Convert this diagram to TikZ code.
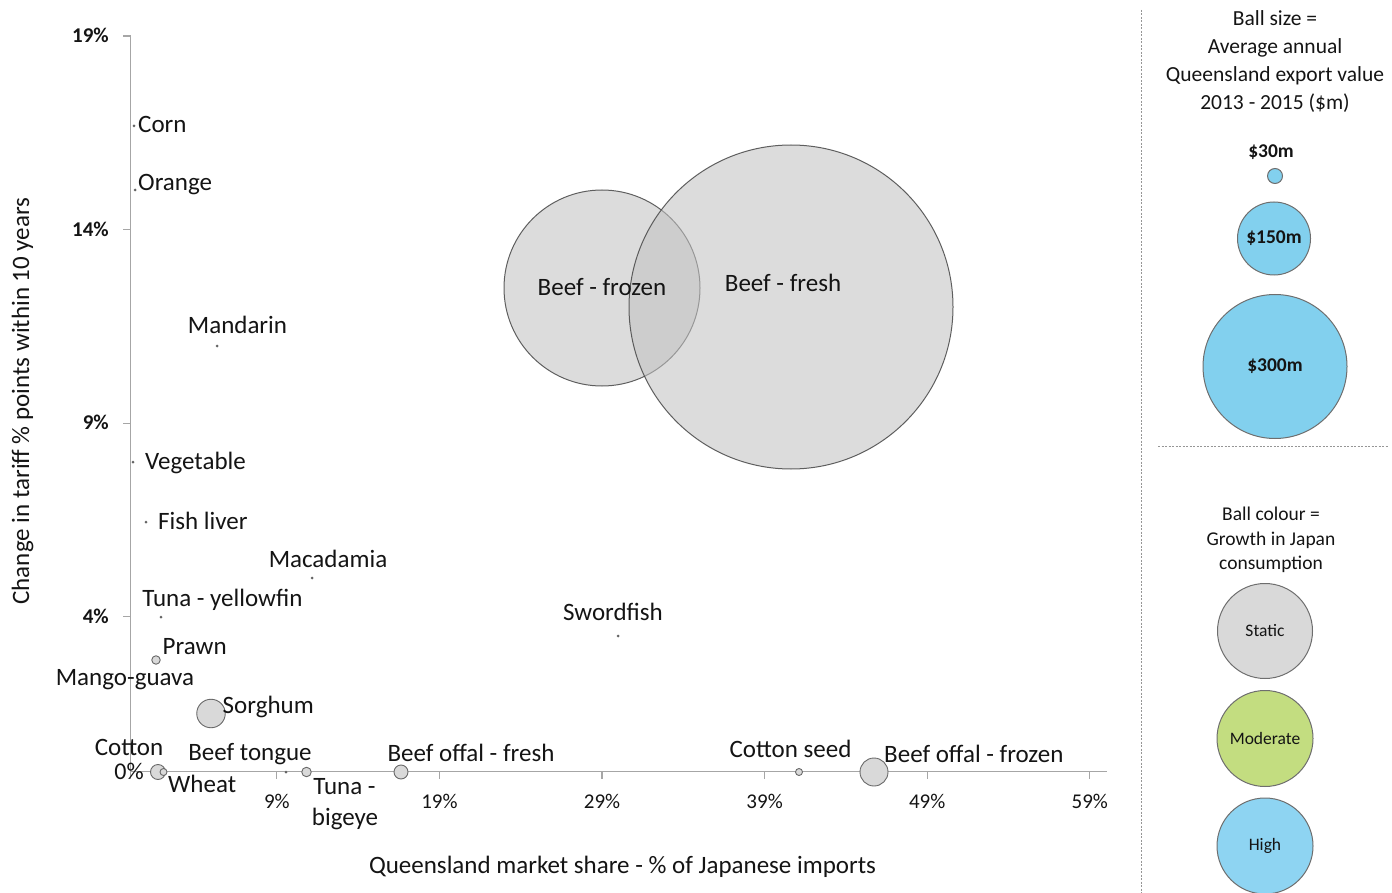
\documentclass[tikz,border=0pt]{standalone}
\usepackage{fontspec}
\setmainfont{Carlito}
\definecolor{axisgray}{RGB}{166,166,166}
\definecolor{bubfill}{RGB}{217,217,217}
\definecolor{bubedge}{RGB}{105,105,105}
\definecolor{biggray}{RGB}{194,194,194}
\definecolor{bigedge}{RGB}{70,70,70}
\definecolor{dotgray}{RGB}{100,100,100}
\definecolor{legblue}{RGB}{130,208,238}
\definecolor{highblue}{RGB}{142,212,242}
\definecolor{modgreen}{RGB}{195,221,128}
\definecolor{leggray}{RGB}{217,217,217}
\definecolor{legedge}{RGB}{110,110,110}
\definecolor{dashgray}{RGB}{150,150,150}
\definecolor{txt}{RGB}{20,20,20}
\newcommand\fsData{\fontsize{25}{31}\selectfont}
\newcommand\fsTick{\fontsize{21}{25}\selectfont}
\newcommand\fsLegA{\fontsize{21.5}{28}\selectfont}
\newcommand\fsLegB{\fontsize{19.5}{25}\selectfont}
\newcommand\fsBall{\fontsize{17.5}{21}\selectfont}
\newcommand\fsBallB{\fontsize{19.5}{23}\selectfont\bfseries}
\begin{document}
\begin{tikzpicture}[x=1pt,y=-1pt,
  axisline/.style={draw=axisgray, line width=1.5pt},
  tickmark/.style={draw=axisgray, line width=1.2pt},
  bub/.style={circle, draw=bubedge, fill=bubfill, line width=0.9pt, inner sep=0pt, minimum size=#1},
  bigbub/.style={circle, draw=bigedge, fill=biggray, fill opacity=0.57, draw opacity=0.85, line width=1pt, inner sep=0pt, minimum size=#1},
  dotm/.style={circle, fill=dotgray, inner sep=0pt, minimum size=3pt},
  lab/.style={inner sep=0pt, font=\fsData, text=txt},
  ytick/.style={inner sep=0pt, font=\fsTick\bfseries, text=txt, anchor=base east},
  xtick/.style={inner sep=0pt, font=\fsTick, text=txt, anchor=base},
  legline/.style={draw=dashgray, line width=1pt, dash pattern=on 2pt off 1.5pt},
  legtxtA/.style={inner sep=0pt, font=\fsLegA, text=txt, anchor=base},
  legtxtB/.style={inner sep=0pt, font=\fsLegB, text=txt, anchor=base},
  legball/.style={circle, draw=legedge, line width=1pt, inner sep=0pt, minimum size=#1, text=txt}
]
\useasboundingbox (0,0) rectangle (1392,893);

% ---------- axes ----------
\coordinate (ytop) at (130.5,36);
\coordinate (O) at (130.5,771.5);
\coordinate (xend) at (1107,771.5);
\draw[axisline] (ytop) -- (O) -- (xend);
\foreach \p/\nm in {19/y19,14/y14,9/y9,4/y4}{
  \coordinate (\nm) at (130.5,{771.5-38.71*\p});
  \draw[tickmark] (\nm) -- ++(-7.5,0);
  \node[ytick] at ([xshift=-21.5pt,yshift=-6.5pt]\nm) {\p\%};
}
\foreach \p/\nm in {0/x0,9/x9,19/x19,29/x29,39/x39,49/x49,59/x59}{
  \coordinate (\nm) at ({130.5+16.26*\p},771.5);
  \draw[tickmark] (\nm) -- ++(0,7.5);
}
\foreach \p/\nm in {9/x9,19/x19,29/x29,39/x39,49/x49,59/x59}{
  \node[xtick] at ([yshift=-36.5pt]\nm) {\p\%};
}
\node[inner sep=0pt, font=\fontsize{24}{28}\selectfont, text=txt, anchor=base] (zero) at (129,779) {0\%};

% axis titles
\node[lab, anchor=base] (xtitle) at (622.5,873) {Queensland market share - \% of Japanese imports};
\node[lab, anchor=base, rotate=90] (ytitle) at (29,401) {Change in tariff \% points within 10 years};

% ---------- bubbles ----------
\node[bigbub=196pt] (beeffrozen) at (602,288) {};
\node[bigbub=324pt] (beeffresh) at (791,307) {};

\node[dotm] (corn) at (134,126) {};
\node[dotm] (orange) at (135,190) {};
\node[dotm] (mandarin) at (217,346) {};
\node[dotm] (vegetable) at (133,462) {};
\node[dotm] (fishliver) at (146,522) {};
\node[dotm] (macadamia) at (312,578) {};
\node[dotm] (tunayf) at (161,617) {};
\node[dotm] (swordfish) at (618,636) {};
\node[dotm] (beeftongue) at (286,772) {};

\node[bub=8.5pt] (prawn) at (156,660) {};
\node[bub=28.5pt] (sorghum) at (211,713.5) {};
\node[bub=15pt] (cotton) at (158,772) {};
\node[bub=7pt] (wheat) at (163.5,772) {};
\node[bub=9.5pt] (tunabe) at (306.5,772) {};
\node[bub=14pt] (offalfresh) at (401,772) {};
\node[bub=7pt] (cottonseed) at (799,772) {};
\node[bub=28pt] (offalfrozen) at (874,772) {};

% ---------- labels ----------
\node[lab, anchor=base west] (lcorn) at (138,133) {Corn};
\node[lab, anchor=base west] (lorange) at (138,191) {Orange};
\node[lab, anchor=base] (lmandarin) at (237.5,334) {Mandarin};
\node[lab, anchor=base west] (lvegetable) at (145,469) {Vegetable};
\node[lab, anchor=base west] (lfishliver) at (158,529) {Fish liver};
\node[lab, anchor=base] (lmacadamia) at (328,567) {Macadamia};
\node[lab, anchor=base] (ltunayf) at (222.5,606) {Tuna - yellowfin};
\node[lab, anchor=base west] (lprawn) at (162.5,654) {Prawn};
\node[lab, anchor=base] (lmango) at (125,685) {Mango-guava};
\node[lab, anchor=base west] (lsorghum) at (222.5,713) {Sorghum};
\node[lab, anchor=base] (lcotton) at (129,755) {Cotton};
\node[lab, anchor=base] (lbeeftongue) at (250,760) {Beef tongue};
\node[lab, anchor=base west] (lwheat) at (168,792) {Wheat};
\node[lab, anchor=base] (ltunabe1) at (344.5,794) {Tuna -};
\node[lab, anchor=base] (ltunabe2) at (345,825) {bigeye};
\node[lab, anchor=base] (loffalfresh) at (471,761) {Beef offal - fresh};
\node[lab, anchor=base] (lswordfish) at (613,620) {Swordfish};
\node[lab, anchor=base] (lcottonseed) at (790.5,757) {Cotton seed};
\node[lab, anchor=base west] (loffalfrozen) at (884,762) {Beef offal - frozen};
\node[lab, anchor=base] (lbeeffrozen) at (602,296) {Beef - frozen};
\node[lab, anchor=base] (lbeeffresh) at (783,292) {Beef - fresh};

% ---------- legend ----------
\coordinate (vtop) at (1141.5,10);
\coordinate (vbot) at (1141.5,893);
\draw[legline] (vtop) -- (vbot);
\coordinate (hl) at (1158,446.5);
\coordinate (hr) at (1388,446.5);
\draw[legline] (hl) -- (hr);

\node[legtxtA] (lgA1) at (1275,26) {Ball size =};
\node[legtxtA] (lgA2) at (1275,54) {Average annual};
\node[legtxtA] (lgA3) at (1275,82) {Queensland export value};
\node[legtxtA] (lgA4) at (1275,110) {2013 - 2015 (\$m)};

\node[inner sep=0pt, font=\fsBallB, text=txt, anchor=base] (l30) at (1271,158) {\$30m};
\node[legball=15pt, fill=legblue] (b30) at (1275,176) {};
\node[legball=73pt, fill=legblue, font=\fsBallB] (b150) at (1274,238.5) {\$150m};
\node[legball=144pt, fill=legblue, font=\fsBallB] (b300) at (1275,366.5) {\$300m};

\node[legtxtB] (lgB1) at (1271,520) {Ball colour =};
\node[legtxtB] (lgB2) at (1271,545) {Growth in Japan};
\node[legtxtB] (lgB3) at (1271,569) {consumption};

\node[legball=95pt, fill=leggray, font=\fsBall] (bstatic) at (1265,631) {Static};
\node[legball=96pt, fill=modgreen, font=\fsBall] (bmod) at (1265,738.5) {Moderate};
\node[legball=96pt, fill=highblue, font=\fsBall] (bhigh) at (1265,846) {High};
\end{tikzpicture}
\end{document}
